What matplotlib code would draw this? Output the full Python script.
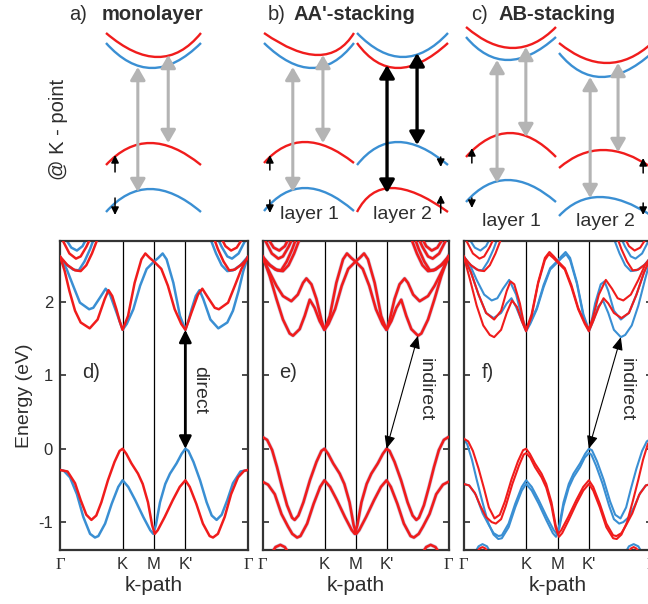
import matplotlib
matplotlib.use("Agg")
import matplotlib.pyplot as plt
from matplotlib.path import Path
from matplotlib.patches import PathPatch, FancyArrowPatch

plt.rcParams['font.family'] = ['Liberation Sans', 'DejaVu Sans']
plt.rcParams['axes.unicode_minus'] = False

RED = '#f01c1c'
BLUE = '#3a8fd3'
GREY = '#b4b4b4'
INK = '#2e2e2e'

# ---------------- k-path / energy axis ----------------
KPATH_POS = [0, 1/3, 1/2, 2/3, 1]
KPATH_LABELS = ['Γ', 'K', 'M', "K'", 'Γ']
E_TICKS = [-1, 0, 1, 2]
E_LIM = (-1.38, 2.83)

# ---------------- panel d (monolayer) ----------------
D_VB_RED_X = [0, .04, .08, .11, .14, .167, .193, .22, .255, .29, .317, .333, .353, .38, .415, .44, .468, .49, .504, .52, .557, .60, .637, .667, .69, .725, .76, .796, .814, .84, .876, .91, .947, .98, 1]
D_VB_RED_Y = [-.29, -.31, -.47, -.70, -.90, -.97, -.91, -.73, -.43, -.18, -.03, 0, -.07, -.20, -.34, -.48, -.73, -1.04, -1.16, -1.11, -.93, -.70, -.52, -.43, -.52, -.75, -1.02, -1.19, -1.21, -1.16, -.93, -.62, -.39, -.30, -.29]
D_VB_BLUE_X = [0, .02, .053, .09, .124, .16, .186, .204, .24, .275, .31, .333, .363, .40, .443, .48, .496, .51, .532, .56, .585, .62, .647, .667, .683, .71, .745, .78, .807, .833, .86, .89, .92, .96, 1]
D_VB_BLUE_Y = [-.29, -.30, -.39, -.62, -.93, -1.16, -1.21, -1.19, -1.02, -.75, -.52, -.43, -.52, -.70, -.93, -1.11, -1.16, -1.04, -.73, -.48, -.34, -.20, -.07, 0, -.03, -.18, -.43, -.73, -.91, -.97, -.90, -.70, -.47, -.31, -.29]
D_CB_RED_X = [0, .025, .05, .08, .11, .158, .20, .238, .258, .278, .30, .317, .333, .362, .397, .433, .454, .477, .50, .539, .574, .61, .645, .667, .70, .734, .757, .787, .823, .845, .894, .93, .965, 1]
D_CB_RED_Y = [2.62, 2.42, 2.15, 1.88, 1.72, 1.64, 1.76, 2.04, 2.16, 2.08, 1.90, 1.74, 1.62, 1.81, 2.26, 2.58, 2.66, 2.60, 2.55, 2.45, 2.22, 1.90, 1.70, 1.62, 1.86, 2.10, 2.18, 2.06, 1.92, 1.90, 1.99, 2.22, 2.45, 2.62]
D_CB_BLUE_X = [0, .035, .07, .106, .155, .177, .213, .243, .266, .30, .333, .355, .39, .426, .461, .50, .523, .546, .567, .603, .638, .667, .683, .70, .722, .742, .762, .80, .842, .89, .92, .95, .975, 1]
D_CB_BLUE_Y = [2.62, 2.45, 2.22, 1.99, 1.90, 1.92, 2.06, 2.18, 2.10, 1.86, 1.62, 1.70, 1.90, 2.22, 2.45, 2.55, 2.60, 2.66, 2.58, 2.26, 1.81, 1.62, 1.74, 1.90, 2.08, 2.16, 2.04, 1.76, 1.64, 1.72, 1.88, 2.15, 2.42, 2.62]

# higher conduction bands near Gamma (shared by all panels)
UP_RED_A_X = [0, .04, .08, .11, .14, .17, .20]
UP_RED_A_Y = [2.62, 2.50, 2.43, 2.42, 2.50, 2.66, 2.86]
UP_BLUE_A_X = [0, .03, .07, .10, .13, .16, .18]
UP_BLUE_A_Y = [2.60, 2.52, 2.44, 2.43, 2.55, 2.72, 2.86]
UP_RED_B_X = [.01, .05, .085, .11, .14, .16]
UP_RED_B_Y = [2.86, 2.66, 2.59, 2.62, 2.75, 2.86]
UP_BLUE_B_X = [.03, .06, .09, .12, .14]
UP_BLUE_B_Y = [2.86, 2.74, 2.70, 2.76, 2.86]
UP_BLUE_C_X = [1, .96, .92, .89, .86, .83, .80]
UP_BLUE_C_Y = [2.62, 2.50, 2.43, 2.42, 2.50, 2.66, 2.86]
UP_RED_C_X = [1, .97, .93, .90, .87, .84, .82]
UP_RED_C_Y = [2.60, 2.52, 2.44, 2.43, 2.55, 2.72, 2.86]
UP_BLUE_D_X = [.99, .95, .915, .89, .86, .84]
UP_BLUE_D_Y = [2.86, 2.66, 2.59, 2.62, 2.75, 2.86]
UP_RED_D_X = [.97, .94, .91, .88, .86]
UP_RED_D_Y = [2.86, 2.74, 2.70, 2.76, 2.86]

# ---------------- panel e (AA' stacking) ----------------
E_VB_A_X = [0, .025, .052, .078, .105, .132, .159, .173, .193, .22, .255, .29, .317, .333, .353, .38, .415, .44, .468, .49, .504, .52, .557, .60, .637, .667, .69, .725, .76, .796, .814, .84, .863, .898, .934, .97, 1]
E_VB_A_Y = [.16, .12, -.02, -.25, -.52, -.77, -.94, -.97, -.91, -.73, -.43, -.18, -.03, 0, -.07, -.20, -.34, -.48, -.73, -1.04, -1.16, -1.11, -.93, -.70, -.52, -.43, -.52, -.75, -1.02, -1.19, -1.21, -1.16, -1.06, -.89, -.62, -.49, -.45]
E_VB_B_X = [0, .03, .066, .102, .137, .16, .186, .204, .24, .275, .31, .333, .363, .40, .443, .48, .496, .51, .532, .56, .585, .62, .647, .667, .683, .71, .745, .78, .807, .827, .841, .868, .895, .922, .948, .975, 1]
E_VB_B_Y = [-.45, -.49, -.62, -.89, -1.06, -1.16, -1.21, -1.19, -1.02, -.75, -.52, -.43, -.52, -.70, -.93, -1.11, -1.16, -1.04, -.73, -.48, -.34, -.20, -.07, 0, -.03, -.18, -.43, -.73, -.91, -.97, -.94, -.77, -.52, -.25, -.02, .12, .16]
E_ARC_L_X = [.05, .07, .096, .12, .14]
E_ARC_R_X = [.86, .88, .904, .93, .95]
E_ARC_Y = [-1.42, -1.34, -1.31, -1.34, -1.42]
E_CB_A_X = [0, .039, .075, .11, .146, .164, .20, .227, .254, .28, .307, .333, .362, .397, .433, .454, .477, .50, .539, .574, .61, .645, .667, .684, .71, .737, .764, .782, .81, .845, .89, .925, .961, 1]
E_CB_A_Y = [2.63, 2.35, 2.04, 1.76, 1.57, 1.54, 1.63, 1.81, 2.03, 1.92, 1.74, 1.62, 1.81, 2.26, 2.58, 2.66, 2.60, 2.55, 2.45, 2.22, 1.90, 1.70, 1.62, 1.76, 2.04, 2.24, 2.32, 2.26, 2.10, 2.01, 2.08, 2.22, 2.40, 2.60]
E_CB_B_X = [0, .039, .075, .11, .155, .19, .218, .236, .263, .29, .316, .333, .355, .39, .426, .461, .50, .523, .546, .567, .603, .638, .667, .693, .72, .746, .773, .80, .836, .854, .89, .925, .961, 1]
E_CB_B_Y = [2.60, 2.40, 2.22, 2.08, 2.01, 2.10, 2.26, 2.32, 2.24, 2.04, 1.76, 1.62, 1.70, 1.90, 2.22, 2.45, 2.55, 2.60, 2.66, 2.58, 2.26, 1.81, 1.62, 1.74, 1.92, 2.03, 1.81, 1.63, 1.54, 1.57, 1.76, 2.04, 2.35, 2.63]

# ---------------- panel f (AB stacking) ----------------
F_VB_R1_X = [0, .025, .05, .08, .11, .135, .165, .193, .22, .255, .29, .317, .333, .353, .38, .415, .44, .468, .49, .504, .52, .557, .60, .637, .667, .69, .725, .76, .796, .814, .84, .863, .898, .934, .97, 1]
F_VB_R1_Y = [.14, .10, -.03, -.27, -.55, -.80, -.95, -.90, -.72, -.42, -.17, -.02, 0, -.07, -.20, -.34, -.48, -.73, -1.04, -1.16, -1.11, -.93, -.70, -.52, -.43, -.52, -.75, -1.02, -1.18, -1.19, -1.15, -1.05, -.88, -.63, -.50, -.48]
F_VB_R2_X = [0, .03, .06, .09, .12, .15, .172, .20, .225, .26, .295, .32, .333, .355, .38, .415, .44, .468, .49, .508, .525, .56, .60, .637, .667, .69, .725, .76, .796, .815, .84, .87, .90, .93, .955, .98, 1]
F_VB_R2_Y = [-.48, -.50, -.60, -.78, -.93, -1.0, -1.02, -.96, -.78, -.48, -.23, -.08, -.06, -.12, -.25, -.39, -.53, -.78, -1.08, -1.2, -1.15, -.97, -.75, -.57, -.48, -.57, -.80, -1.07, -1.22, -1.23, -1.17, -1.0, -.72, -.42, -.15, .06, .14]
F_VB_B1_X = [0, .03, .066, .102, .137, .16, .186, .204, .24, .275, .31, .333, .363, .40, .443, .48, .496, .51, .532, .56, .585, .62, .647, .667, .683, .71, .745, .78, .807, .835, .865, .89, .92, .95, .975, 1]
F_VB_B1_Y = [-.48, -.50, -.63, -.88, -1.05, -1.15, -1.19, -1.18, -1.02, -.75, -.52, -.43, -.52, -.70, -.93, -1.11, -1.16, -1.04, -.73, -.48, -.34, -.20, -.07, 0, -.02, -.17, -.42, -.72, -.90, -.95, -.80, -.55, -.27, -.03, .10, .14]
F_VB_B2_X = [0, .02, .045, .07, .10, .13, .16, .185, .204, .24, .275, .31, .333, .363, .40, .44, .475, .492, .51, .532, .56, .585, .62, .645, .667, .68, .705, .74, .775, .80, .828, .85, .88, .91, .94, .97, 1]
F_VB_B2_Y = [.14, .06, -.15, -.42, -.72, -1.0, -1.17, -1.23, -1.22, -1.07, -.80, -.57, -.48, -.57, -.75, -.97, -1.15, -1.2, -1.08, -.78, -.53, -.39, -.25, -.12, -.06, -.08, -.23, -.48, -.78, -.96, -1.02, -1.0, -.93, -.78, -.60, -.50, -.48]
F_ARC_BLUE_L_X = [.06, .08, .101, .125, .145]
F_ARC_BLUE_R_X = [.86, .88, .905, .93, .95]
F_ARC_BLUE_Y = [-1.42, -1.33, -1.30, -1.33, -1.42]
F_ARC_RED_L_X = [.07, .085, .101, .117, .13]
F_ARC_RED_R_X = [.875, .89, .905, .92, .935]
F_ARC_RED_Y = [-1.42, -1.36, -1.34, -1.36, -1.42]
F_CB_R1_X = [0, .035, .07, .105, .14, .163, .20, .23, .258, .285, .31, .333, .362, .397, .433, .454, .477, .50, .539, .574, .61, .645, .667, .69, .72, .745, .77, .80, .84, .88, .92, .96, 1]
F_CB_R1_Y = [2.63, 2.30, 1.95, 1.68, 1.55, 1.52, 1.62, 1.85, 2.02, 1.93, 1.74, 1.60, 1.80, 2.25, 2.57, 2.65, 2.60, 2.54, 2.44, 2.20, 1.90, 1.70, 1.60, 1.74, 1.93, 2.05, 1.98, 1.85, 1.78, 1.85, 2.10, 2.40, 2.63]
F_CB_R2_X = [0, .04, .08, .12, .163, .20, .23, .25, .27, .30, .32, .333, .362, .397, .433, .457, .48, .50, .539, .574, .61, .645, .667, .69, .72, .757, .79, .82, .85, .89, .93, .965, 1]
F_CB_R2_Y = [2.63, 2.40, 2.10, 1.85, 1.76, 1.88, 2.15, 2.28, 2.24, 1.98, 1.72, 1.62, 1.83, 2.27, 2.60, 2.68, 2.62, 2.56, 2.46, 2.23, 1.92, 1.72, 1.63, 1.80, 2.10, 2.30, 2.18, 2.05, 2.02, 2.10, 2.30, 2.50, 2.63]
F_CB_B1_X = [0, .04, .08, .12, .16, .20, .23, .255, .28, .31, .333, .355, .39, .426, .461, .50, .523, .546, .567, .603, .638, .667, .69, .715, .742, .77, .80, .837, .86, .895, .93, .965, 1]
F_CB_B1_Y = [2.63, 2.40, 2.10, 1.85, 1.78, 1.85, 1.98, 2.05, 1.93, 1.74, 1.60, 1.70, 1.90, 2.20, 2.44, 2.54, 2.60, 2.65, 2.57, 2.25, 1.80, 1.60, 1.74, 1.93, 2.02, 1.85, 1.62, 1.52, 1.55, 1.68, 1.95, 2.30, 2.63]
F_CB_B2_X = [0, .035, .07, .11, .15, .18, .21, .243, .28, .31, .333, .355, .39, .426, .461, .50, .52, .543, .567, .603, .638, .667, .68, .70, .73, .75, .77, .80, .837, .88, .92, .96, 1]
F_CB_B2_Y = [2.63, 2.50, 2.30, 2.10, 2.02, 2.05, 2.18, 2.30, 2.10, 1.80, 1.63, 1.72, 1.92, 2.23, 2.46, 2.56, 2.62, 2.68, 2.60, 2.27, 1.83, 1.62, 1.72, 1.98, 2.24, 2.28, 2.15, 1.88, 1.76, 1.85, 2.10, 2.40, 2.63]

# gap transitions: (k of VBM, E of VBM, k of CBM, E of CBM)
D_GAP = (2/3, 0.0, 2/3, 1.62)
E_GAP = (2/3, 0.0, 0.836, 1.54)
F_GAP = (2/3, 0.0, 0.837, 1.52)

# ---------------- schematic @K (arb. energy units) ----------------
SCH_LAYERS = ['a', 'b1', 'b2', 'c1', 'c2']
SCH_BAND_LAYER = ['a'] * 4 + ['b1'] * 4 + ['b2'] * 4 + ['c1'] * 4 + ['c2'] * 4
SCH_BAND_SPIN = ['up', 'down', 'up', 'down', 'up', 'down', 'up', 'down',
                 'down', 'up', 'down', 'up', 'up', 'down', 'up', 'down',
                 'up', 'down', 'up', 'down']
SCH_BAND_KEXT = [.09, -.03, -.07, -.07, .20, .07, -.09, -.09,
                 .01, -.10, -.10, -.23, .04, -.07, -.02, -.07,
                 .03, -.08, -.05, -.12]
SCH_BAND_EEND = [19.2, 18.2, 6.0, 1.3, 19.2, 18.2, 6.2, 1.4,
                 19.2, 18.2, 6.0, 1.3, 19.8, 18.8, 6.8, 2.3,
                 18.2, 17.2, 5.7, 0.9]
SCH_BAND_EEXT = [16.8, 15.7, 8.2, 3.6, 17.0, 15.7, 8.3, 3.7,
                 16.8, 15.7, 8.3, 3.7, 17.7, 16.5, 9.2, 4.5,
                 16.2, 14.8, 7.5, 2.8]
SCH_ARROW_LAYER = ['a', 'a', 'b1', 'b1', 'b2', 'b2', 'c1', 'c1', 'c2', 'c2']
SCH_ARROW_K = [-.33, .31, -.36, .31, -.34, .32, -.31, .33, -.33, .27]
SCH_ARROW_ETOP = [15.8, 17.0, 15.8, 17.0, 16.0, 17.2, 16.5, 17.8, 14.8, 16.2]
SCH_ARROW_EBOT = [3.3, 8.2, 3.3, 8.2, 3.2, 8.0, 4.2, 8.8, 2.7, 7.3]
SCH_ARROW_KIND = ['grey', 'grey', 'grey', 'grey', 'black', 'black', 'grey', 'grey', 'grey', 'grey']
SCH_SPIN_LAYER = ['a', 'a', 'b1', 'b1', 'b2', 'b2', 'c1', 'c1', 'c2', 'c2']
SCH_SPIN_K = [-.81, -.81, -.87, -.87, .84, .84, -.87, -.87, .81, .81]
SCH_SPIN_EFROM = [5.3, 2.7, 5.5, 2.5, 6.8, 1.2, 6.2, 2.7, 5.2, 2.2]
SCH_SPIN_ETO = [7.0, 1.0, 7.0, 1.2, 5.8, 3.0, 7.7, 1.7, 6.7, 1.0]
LAYER_LABEL_TEXT = {'b1': 'layer 1', 'b2': 'layer 2', 'c1': 'layer 1', 'c2': 'layer 2'}
LAYER_LABEL_E = {'b1': 1.1, 'b2': 1.1, 'c1': 0.4, 'c2': 0.4}

# ================= drawing =================
W, H = 648, 604
fig = plt.figure(figsize=(W / 100, H / 100), dpi=100)


def rect(l, r, t, b):
    return [l / W, 1 - b / H, (r - l) / W, (b - t) / H]


SPIN_COLOR = {'up': RED, 'down': BLUE}

# schematic layer axes
LAYER_PX = {'a': (106, 201), 'b1': (264, 354), 'b2': (357, 448), 'c1': (466, 556), 'c2': (559, 652)}
sch_axes = {}
for name in SCH_LAYERS:
    l, r = LAYER_PX[name]
    a = fig.add_axes(rect(l, r, 20, 225))
    a.set_xlim(-1, 1)
    a.set_ylim(0, 20.5)
    a.axis('off')
    sch_axes[name] = a

for lay, spin, ke, e0, ee in zip(SCH_BAND_LAYER, SCH_BAND_SPIN, SCH_BAND_KEXT, SCH_BAND_EEND, SCH_BAND_EEXT):
    a = sch_axes[lay]
    verts = [(-1, e0), (2 * ke, 2 * ee - e0), (1, e0)]
    p = Path(verts, [Path.MOVETO, Path.CURVE3, Path.CURVE3])
    a.add_patch(PathPatch(p, fill=False, edgecolor=SPIN_COLOR[spin], lw=1.7, clip_on=False))

for lay, k, et, eb, kind in zip(SCH_ARROW_LAYER, SCH_ARROW_K, SCH_ARROW_ETOP, SCH_ARROW_EBOT, SCH_ARROW_KIND):
    a = sch_axes[lay]
    col = GREY if kind == 'grey' else 'black'
    lw = 2.2 if kind == 'grey' else 2.4
    arr = FancyArrowPatch((k, eb), (k, et), arrowstyle='<|-|>,head_length=0.55,head_width=0.32',
                          mutation_scale=14, color=col, lw=lw, shrinkA=0, shrinkB=0, clip_on=False)
    a.add_patch(arr)

for lay, k, ef, et in zip(SCH_SPIN_LAYER, SCH_SPIN_K, SCH_SPIN_EFROM, SCH_SPIN_ETO):
    a = sch_axes[lay]
    arr = FancyArrowPatch((k, ef), (k, et), arrowstyle='-|>,head_length=0.5,head_width=0.25',
                          mutation_scale=9, color='black', lw=1.1, shrinkA=0, shrinkB=0, clip_on=False)
    a.add_patch(arr)

for lay, txt in LAYER_LABEL_TEXT.items():
    sch_axes[lay].text(0, LAYER_LABEL_E[lay], txt, ha='center', va='center', fontsize=14, color=INK)

# titles
TITLE_FS = 14.5
fig.text(69 / W, 1 - 15 / H, 'a)', fontsize=TITLE_FS, color=INK, ha='left', va='center')
fig.text(101.5 / W, 1 - 15 / H, 'monolayer', fontsize=TITLE_FS, fontweight='bold', color=INK, ha='left', va='center')
fig.text(268 / W, 1 - 15 / H, 'b)', fontsize=TITLE_FS, color=INK, ha='left', va='center')
fig.text(294 / W, 1 - 15 / H, "AA'-stacking", fontsize=TITLE_FS, fontweight='bold', color=INK, ha='left', va='center')
fig.text(471.5 / W, 1 - 15 / H, 'c)', fontsize=TITLE_FS, color=INK, ha='left', va='center')
fig.text(498.5 / W, 1 - 15 / H, 'AB-stacking', fontsize=TITLE_FS, fontweight='bold', color=INK, ha='left', va='center')
fig.text(58 / W, 1 - 129 / H, '@ K - point', fontsize=14.5, color=INK, rotation=90, ha='center', va='center')

# band-structure panels
axd = fig.add_axes(rect(60, 248, 241, 550))
axe = fig.add_axes(rect(262.5, 448.5, 241, 550))
axf = fig.add_axes(rect(463.5, 651.5, 241, 550))

for ax in (axd, axe, axf):
    ax.set_xlim(0, 1)
    ax.set_ylim(*E_LIM)
    for xv in KPATH_POS[1:4]:
        ax.axvline(xv, color='black', lw=0.9, zorder=1)
    ax.set_xticks(KPATH_POS)
    ax.set_xticklabels(KPATH_LABELS)
    for i in (0, 4):
        ax.get_xticklabels()[i].set_fontfamily(['Liberation Serif', 'DejaVu Serif'])
    ax.set_yticks(E_TICKS)
    ax.tick_params(axis='x', length=0, pad=5, labelsize=12, colors=INK)
    ax.tick_params(axis='y', direction='in', length=4, width=1.2, left=True, right=True,
                   labelsize=12, colors=INK, pad=5)
    for s in ax.spines.values():
        s.set_color('#333333')
        s.set_linewidth(1.6)
    ax.set_xlabel('k-path', fontsize=15, color=INK, labelpad=2)

axd.set_yticklabels([str(t) for t in E_TICKS])
axd.set_ylabel('Energy (eV)', fontsize=14, color=INK, labelpad=4)
axe.tick_params(axis='y', labelleft=False)
axf.tick_params(axis='y', labelleft=False)


def band(ax, xs, ys, color, lw=1.8, z=3):
    ax.plot(xs, ys, color=color, lw=lw, zorder=z, solid_joinstyle='round', solid_capstyle='round')


# panel d
for xs, ys in [(D_VB_BLUE_X, D_VB_BLUE_Y), (D_CB_BLUE_X, D_CB_BLUE_Y),
               (UP_BLUE_A_X, UP_BLUE_A_Y), (UP_BLUE_B_X, UP_BLUE_B_Y),
               (UP_BLUE_C_X, UP_BLUE_C_Y), (UP_BLUE_D_X, UP_BLUE_D_Y)]:
    band(axd, xs, ys, BLUE, 1.8, 2)
for xs, ys in [(D_VB_RED_X, D_VB_RED_Y), (D_CB_RED_X, D_CB_RED_Y),
               (UP_RED_A_X, UP_RED_A_Y), (UP_RED_B_X, UP_RED_B_Y),
               (UP_RED_C_X, UP_RED_C_Y), (UP_RED_D_X, UP_RED_D_Y)]:
    band(axd, xs, ys, RED, 1.8, 3)

# panel e (spin-degenerate: red over faint blue)
E_CURVES = [(E_VB_A_X, E_VB_A_Y), (E_VB_B_X, E_VB_B_Y), (E_ARC_L_X, E_ARC_Y), (E_ARC_R_X, E_ARC_Y),
            (E_CB_A_X, E_CB_A_Y), (E_CB_B_X, E_CB_B_Y),
            (UP_RED_A_X, UP_RED_A_Y), (UP_BLUE_A_X, UP_BLUE_A_Y), (UP_RED_B_X, UP_RED_B_Y), (UP_BLUE_B_X, UP_BLUE_B_Y),
            (UP_RED_C_X, UP_RED_C_Y), (UP_BLUE_C_X, UP_BLUE_C_Y), (UP_RED_D_X, UP_RED_D_Y), (UP_BLUE_D_X, UP_BLUE_D_Y)]
for xs, ys in E_CURVES:
    axe.plot(xs, ys, color='#7d7dc0', lw=2.8, alpha=0.35, zorder=2, solid_joinstyle='round')
for xs, ys in E_CURVES:
    band(axe, xs, ys, RED, 1.9, 3)

# panel f
for xs, ys in [(F_VB_B1_X, F_VB_B1_Y), (F_VB_B2_X, F_VB_B2_Y), (F_CB_B1_X, F_CB_B1_Y), (F_CB_B2_X, F_CB_B2_Y),
               (F_ARC_BLUE_L_X, F_ARC_BLUE_Y), (F_ARC_BLUE_R_X, F_ARC_BLUE_Y),
               (UP_BLUE_A_X, UP_BLUE_A_Y), (UP_BLUE_B_X, UP_BLUE_B_Y),
               (UP_BLUE_C_X, UP_BLUE_C_Y), (UP_BLUE_D_X, UP_BLUE_D_Y)]:
    band(axf, xs, ys, BLUE, 1.5, 2)
for xs, ys in [(F_VB_R1_X, F_VB_R1_Y), (F_VB_R2_X, F_VB_R2_Y), (F_CB_R1_X, F_CB_R1_Y), (F_CB_R2_X, F_CB_R2_Y),
               (F_ARC_RED_L_X, F_ARC_RED_Y), (F_ARC_RED_R_X, F_ARC_RED_Y),
               (UP_RED_A_X, UP_RED_A_Y), (UP_RED_B_X, UP_RED_B_Y),
               (UP_RED_C_X, UP_RED_C_Y), (UP_RED_D_X, UP_RED_D_Y)]:
    band(axf, xs, ys, RED, 1.5, 3)

# gap arrows and labels
k0, e0, k1, e1 = D_GAP
axd.add_patch(FancyArrowPatch((k0, e0), (k1, e1), arrowstyle='<|-|>,head_length=0.6,head_width=0.3',
                              mutation_scale=12, color='black', lw=2.0, shrinkA=0, shrinkB=0, zorder=5))
axd.text(0.745, 0.80, 'direct', rotation=270, ha='center', va='center', fontsize=14, color=INK)
for ax, gap, tx in ((axe, E_GAP, 0.874), (axf, F_GAP, 0.867)):
    k0, e0, k1, e1 = gap
    ax.add_patch(FancyArrowPatch((k0, e0), (k1, e1), arrowstyle='<|-|>,head_length=0.7,head_width=0.3',
                                 mutation_scale=11, color='black', lw=0.8, shrinkA=0, shrinkB=0, zorder=5))
    ax.text(tx, 0.81, 'indirect', rotation=270, ha='center', va='center', fontsize=14, color=INK)

axd.text(0.163, 1.045, 'd)', ha='center', va='center', fontsize=14.5, color=INK)
axe.text(0.139, 1.045, 'e)', ha='center', va='center', fontsize=14.5, color=INK)
axf.text(0.131, 1.045, 'f)', ha='center', va='center', fontsize=14.5, color=INK)

fig.savefig('out.png', dpi=100)
